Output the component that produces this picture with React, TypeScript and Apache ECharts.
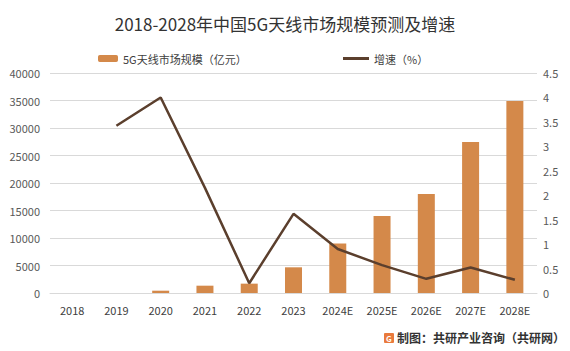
import React, { useEffect, useRef } from "react";
import * as echarts from "echarts";

const categories = ["2018", "2019", "2020", "2021", "2022", "2023", "2024E", "2025E", "2026E", "2027E", "2028E"];
const marketSize = [0, 0, 420, 1330, 1700, 4670, 9000, 14000, 18000, 27450, 34900];
const growthRate = [null, 3.42, 4.0, 2.15, 0.2, 1.62, 0.9, 0.57, 0.29, 0.52, 0.27];
const barName = "5G天线市场规模（亿元）";
const lineName = "增速（%）";
const titleText = "2018-2028年中国5G天线市场规模预测及增速";
const footerText = "制图：共研产业咨询（共研网）";

const FONT = "'Noto Sans CJK SC', 'Noto Sans', sans-serif";

export default function App() {
  const ref = useRef<HTMLDivElement>(null);
  useEffect(() => {
    if (!ref.current) return;
    const chart = echarts.init(ref.current, undefined, { renderer: "svg" });
    chart.setOption({
      animation: false,
      backgroundColor: "#ffffff",
      textStyle: { fontFamily: FONT },
      title: {
        text: titleText,
        left: "center",
        top: 10,
        textStyle: { fontSize: 17, fontWeight: "normal", color: "#333333", fontFamily: FONT },
      },
      legend: [
        {
          data: [barName],
          left: 93,
          top: 48,
          itemWidth: 20,
          itemHeight: 7,
          itemGap: 4,
          textStyle: { fontSize: 11, color: "#404040", fontFamily: FONT },
        },
        {
          data: [{ name: lineName, icon: "rect" }],
          left: 338,
          top: 48,
          itemWidth: 26,
          itemHeight: 3,
          itemGap: 4,
          textStyle: { fontSize: 11, color: "#404040", fontFamily: FONT },
        },
      ],
      grid: { left: 50, right: 33, top: 73, bottom: 58, containLabel: false },
      xAxis: {
        type: "category",
        data: categories,
        axisLine: { show: true, lineStyle: { color: "#d9d9d9" } },
        axisTick: { show: false },
        axisLabel: { fontSize: 11, color: "#404040", margin: 11, fontFamily: FONT },
      },
      yAxis: [
        {
          type: "value",
          min: 0,
          max: 40000,
          interval: 5000,
          axisLine: { show: false },
          axisTick: { show: false },
          axisLabel: { fontSize: 11, color: "#595959", margin: 10, fontFamily: FONT, formatter: (v: number) => String(v) },
          splitLine: { lineStyle: { color: "#d9d9d9", width: 1 } },
        },
        {
          type: "value",
          min: 0,
          max: 4.5,
          interval: 0.5,
          position: "right",
          axisLine: { show: false },
          axisTick: { show: false },
          axisLabel: { fontSize: 11, color: "#595959", margin: 6, fontFamily: FONT, formatter: (v: number) => String(v) },
          splitLine: { show: false },
        },
      ],
      series: [
        {
          name: barName,
          type: "bar",
          data: marketSize,
          barWidth: 17,
          itemStyle: { color: "#D4894A" },
        },
        {
          name: lineName,
          type: "line",
          yAxisIndex: 1,
          data: growthRate,
          symbol: "none",
          connectNulls: false,
          lineStyle: { color: "#5B3F2D", width: 2.5 },
          itemStyle: { color: "#5B3F2D" },
        },
      ],
      graphic: [
        {
          type: "rect",
          shape: { x: 384, y: 333, width: 10, height: 10, r: 1 },
          style: { fill: "#E97A3C" },
        },
        {
          type: "text",
          x: 386,
          y: 334,
          style: { text: "G", fill: "#ffffff", font: "bold 8px " + FONT },
        },
        {
          type: "text",
          x: 397,
          y: 331,
          style: { text: footerText, fill: "#333333", font: "bold 12px " + FONT },
        },
      ],
    });
    return () => chart.dispose();
  }, []);
  return <div ref={ref} style={{ width: 570, height: 351, position: "absolute", left: 0, top: 0 }} />;
}
